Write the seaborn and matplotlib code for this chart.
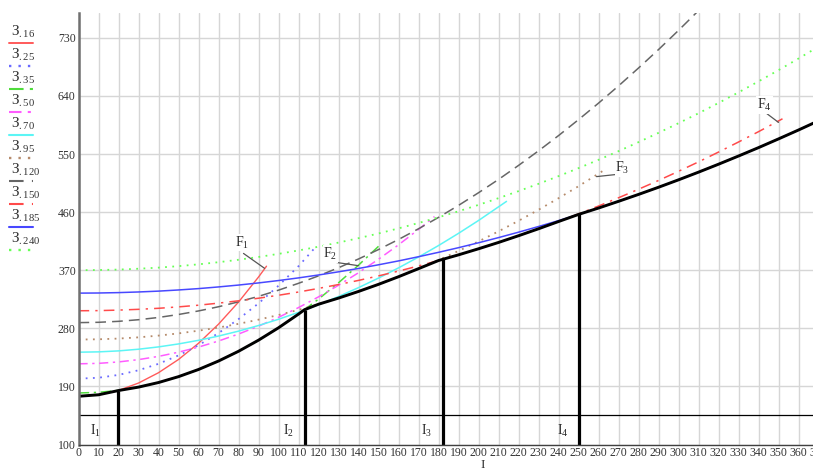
import numpy as np
import pandas as pd
import matplotlib
matplotlib.use('Agg')
import matplotlib.pyplot as plt
import seaborn as sns
from matplotlib.lines import Line2D

# cost curves З(I) for each cross-section
I_16 = [0, 10, 20, 30, 40, 50, 60, 70, 80, 90, 94]
Z_16 = [174.7, 177.0, 183.8, 195.2, 211.2, 231.7, 256.8, 286.4, 320.6, 359.4, 376.2]

I_25 = [0, 10, 20, 30, 40, 50, 60, 70, 80, 90, 100, 110, 118]
Z_25 = [202.0, 203.4, 207.8, 215.0, 225.0, 238.0, 253.8, 272.6, 294.2, 318.6, 346.0, 376.2, 404.0]

I_35 = [0, 10, 20, 30, 40, 50, 60, 70, 80, 90, 100, 110, 120, 130, 140, 150]
Z_35 = [179.8, 180.8, 183.8, 188.9, 196.0, 205.1, 216.2, 229.3, 244.4, 261.6, 280.8, 302.0,
        325.2, 350.5, 377.8, 407.0]

I_50 = [0, 10, 20, 30, 40, 50, 60, 70, 80, 90, 100, 110, 120, 130, 140, 150, 160, 170, 178]
Z_50 = [225.0, 225.7, 227.9, 231.5, 236.5, 243.0, 250.9, 260.3, 271.1, 283.3, 297.0, 312.1,
        328.7, 346.7, 366.1, 387.0, 409.3, 433.1, 453.1]

I_70 = [0, 10, 20, 30, 40, 50, 60, 70, 80, 90, 100, 110, 120, 130, 140, 150, 160, 170, 180,
        190, 200, 214]
Z_70 = [243.0, 243.5, 245.0, 247.6, 251.2, 255.8, 261.4, 268.0, 275.6, 284.3, 294.0, 304.7,
        316.4, 329.2, 343.0, 357.8, 373.6, 390.4, 408.2, 427.1, 447.0, 476.6]

I_95 = [0, 10, 20, 30, 40, 50, 60, 70, 80, 90, 100, 110, 120, 130, 140, 150, 160, 170, 180,
        190, 200, 210, 220, 230, 240, 250, 264]
Z_95 = [262.6, 263.0, 264.1, 266.0, 268.7, 272.1, 276.3, 281.2, 286.9, 293.4, 300.6, 308.6,
        317.3, 326.8, 337.1, 348.1, 359.9, 372.4, 385.7, 399.8, 414.6, 430.2, 446.5, 463.6,
        481.5, 500.1, 527.4]

I_120 = [0, 10, 20, 30, 40, 50, 60, 70, 80, 90, 100, 110, 120, 130, 140, 150, 160, 170, 180,
         190, 200, 210, 220, 230, 240, 250, 260, 270, 280, 290, 300, 310]
Z_120 = [288.8, 289.3, 290.8, 293.3, 296.8, 301.4, 306.9, 313.4, 321.0, 329.5, 339.1, 349.7,
         361.2, 373.8, 387.4, 402.0, 417.6, 434.2, 451.8, 470.4, 490.0, 510.6, 532.3, 554.9,
         578.5, 603.2, 628.8, 655.5, 683.2, 711.8, 741.5, 772.2]

I_150 = [0, 10, 20, 30, 40, 50, 60, 70, 80, 90, 100, 110, 120, 130, 140, 150, 160, 170, 180,
         190, 200, 210, 220, 230, 240, 250, 260, 270, 280, 290, 300, 310, 320, 330, 340, 352]
Z_150 = [307.2, 307.4, 308.2, 309.4, 311.0, 313.2, 315.8, 319.0, 322.6, 326.6, 331.2, 336.2,
         341.8, 347.8, 354.2, 361.2, 368.6, 376.6, 385.0, 393.8, 403.2, 413.0, 423.4, 434.2,
         445.4, 457.2, 469.4, 482.2, 495.4, 509.0, 523.2, 537.8, 553.0, 568.6, 584.6, 604.6]

I_185 = [0, 10, 20, 30, 40, 50, 60, 70, 80, 90, 100, 110, 120, 130, 140, 150, 160, 170, 180,
         190, 200, 210, 220, 230, 240, 250, 260, 270, 280, 290, 300, 310, 320, 330, 340, 350,
         360, 372]
Z_185 = [334.5, 334.7, 335.3, 336.3, 337.6, 339.4, 341.5, 344.1, 347.0, 350.3, 354.0, 358.1,
         362.6, 367.5, 372.7, 378.4, 384.4, 390.9, 397.7, 404.9, 412.5, 420.5, 428.9, 437.7,
         446.8, 456.4, 466.3, 476.7, 487.4, 498.5, 510.0, 521.9, 534.2, 546.9, 559.9, 573.4,
         587.2, 604.3]

I_240 = [0, 10, 20, 30, 40, 50, 60, 70, 80, 90, 100, 110, 120, 130, 140, 150, 160, 170, 180,
         190, 200, 210, 220, 230, 240, 250, 260, 270, 280, 290, 300, 310, 320, 330, 340, 350,
         360, 372]
Z_240 = [370.0, 370.3, 371.0, 372.3, 374.0, 376.3, 379.1, 382.4, 386.2, 390.5, 395.3, 400.6,
         406.4, 412.8, 419.6, 426.9, 434.8, 443.1, 452.0, 461.3, 471.2, 481.6, 492.5, 503.8,
         515.7, 528.1, 541.0, 554.4, 568.4, 582.8, 597.7, 613.1, 629.1, 645.5, 662.5, 679.9,
         697.9, 720.1]

# lower envelope (minimum cost)
I_min = [0, 10, 20, 30, 40, 50, 60, 70, 80, 90, 100, 110, 113, 120, 130, 140, 150, 160, 170,
         180, 190, 200, 210, 220, 230, 240, 250, 260, 270, 280, 290, 300, 310, 320, 330, 340,
         350, 360, 372]
Z_min = [174.7, 177.0, 183.6, 188.9, 196.0, 205.1, 216.2, 229.3, 244.4, 261.6, 280.8, 302.0,
         308.8, 317.3, 326.8, 337.1, 348.1, 359.9, 372.4, 385.0, 393.8, 403.2, 413.0, 423.4,
         434.2, 445.4, 456.4, 466.3, 476.7, 487.4, 498.5, 510.0, 521.9, 534.2, 546.9, 559.9,
         573.4, 587.2, 604.3]

# economic boundary currents
I_bound = [19.5, 113, 182, 250]
Z_bound = [183.4, 308.8, 386.7, 456.4]
bound_names = ['I$_1$', 'I$_2$', 'I$_3$', 'I$_4$']

sections = ['16', '25', '35', '50', '70', '95', '120', '150', '185', '240']
curves = {'16': (I_16, Z_16), '25': (I_25, Z_25), '35': (I_35, Z_35), '50': (I_50, Z_50),
          '70': (I_70, Z_70), '95': (I_95, Z_95), '120': (I_120, Z_120),
          '150': (I_150, Z_150), '185': (I_185, Z_185), '240': (I_240, Z_240)}

styles = {
    '16': ('#ff5a5a', '-', 1.0),
    '25': ('#6a6aff', (0, (1, 3)), 1.3),
    '35': ('#4fdc3c', (0, (7, 3, 1.5, 3)), 1.1),
    '50': ('#ff5cff', (0, (6, 3, 1.5, 3)), 1.1),
    '70': ('#5cf5f5', '-', 1.1),
    '95': ('#b58a6a', (0, (1, 3)), 1.3),
    '120': ('#666666', (0, (7, 4)), 1.1),
    '150': ('#ff4a4a', (0, (7, 4, 1.5, 4)), 1.1),
    '185': ('#4848ff', '-', 1.1),
    '240': ('#66ff55', (0, (1, 3)), 1.3),
}

sns.set_style('white')
plt.rcParams['font.family'] = ['Liberation Serif', 'DejaVu Serif']
plt.rcParams['mathtext.fontset'] = 'custom'
plt.rcParams['mathtext.rm'] = 'Liberation Serif'
plt.rcParams['mathtext.it'] = 'Liberation Serif:italic'

W, H = 813, 472
fig = plt.figure(figsize=(W / 100, H / 100), dpi=100)
ax = fig.add_axes([78.5 / W, 1 - 444.5 / H, 744 / W, 431.2 / H])

for name in sections:
    xs, ys = curves[name]
    col, ls, lw = styles[name]
    sns.lineplot(x=xs, y=ys, ax=ax, color=col, linestyle=ls, lw=lw, sort=False)

sns.lineplot(x=I_min, y=Z_min, ax=ax, color='black', lw=2.1, sort=False)
ax.vlines(I_bound, 100, Z_bound, color='black', lw=2.3)
ax.axhline(145, color='black', lw=0.9)

label_x = [8.5, 105, 174, 242]
for x, name in zip(label_x, bound_names):
    ax.text(x, 121, name, fontsize=10, ha='center', va='center')

# leader labels to the curve ends
F_labels = [('F$_1$', (82, 413), (82.5, 396), (93, 373)),
            ('F$_2$', (126, 395), (129, 382), (140, 377)),
            ('F$_3$', (272, 528), (259, 515), (271, 519)),
            ('F$_4$', (343, 626), (344, 613), (350, 599))]
for txt, pos, p0, p1 in F_labels:
    ax.plot([p0[0], p1[0]], [p0[1], p1[1]], color='#555555', lw=0.9)
    ax.text(pos[0], pos[1], txt, fontsize=10, ha='center', va='center',
            bbox=dict(facecolor='white', edgecolor='none', pad=0.5))

ax.set_xlim(0, 372)
ax.set_ylim(100, 768)
ax.set_xticks(np.arange(0, 371, 10))
ax.set_yticks(np.arange(100, 731, 90))
ax.grid(True, color='#d6d6d6', lw=1.0)
ax.set_axisbelow(True)
for s in ['top', 'right']:
    ax.spines[s].set_visible(False)
ax.spines['left'].set_color('#707070')
ax.spines['left'].set_linewidth(1.8)
ax.spines['bottom'].set_color('#404040')
ax.spines['bottom'].set_linewidth(1.0)
ax.tick_params(length=0, labelsize=8.5, colors='#333333', pad=2)
ax.set_xlabel('')
ax.set_ylabel('')
ax.text((483 - 78.5) / 744, -(465 - 444.5) / 431.2, 'I', transform=ax.transAxes,
        fontsize=9.5, ha='center', va='center', color='#333333')

# legend drawn at the left: label above, line sample below
for k, name in enumerate(sections):
    col, ls, lw = styles[name]
    ty = 32 + 23 * k
    ly = 43 + 23 * k
    fig.text(11 / W, 1 - ty / H, r'$\mathrm{З}_{.%s}$' % name, fontsize=11,
             ha='left', va='center', color='#333333')
    fig.add_artist(Line2D([9 / W, 33 / W], [1 - ly / H, 1 - ly / H], color=col,
                          linestyle=ls, lw=lw + 0.4, transform=fig.transFigure))

fig.savefig('out.png', dpi=100)
